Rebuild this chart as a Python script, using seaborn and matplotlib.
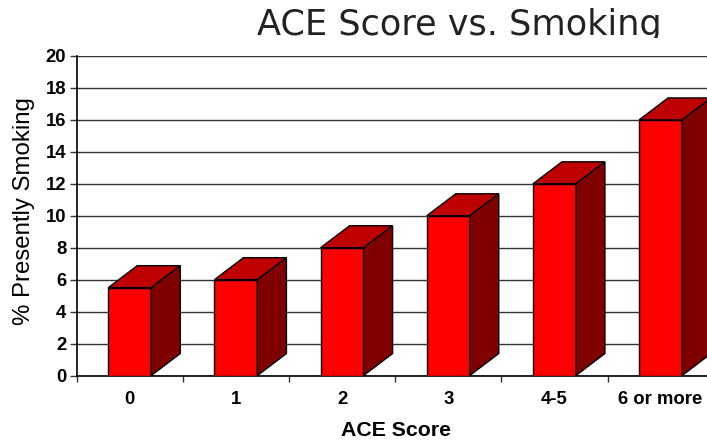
import matplotlib
matplotlib.use('Agg')
import matplotlib.pyplot as plt
import pandas as pd
import seaborn as sns
from matplotlib.patches import Polygon
from matplotlib.transforms import Bbox

categories = ['0', '1', '2', '3', '4-5', '6 or more']
smoking = [5.5, 6, 8, 10, 12, 16]
y_ticks = [0, 2, 4, 6, 8, 10, 12, 14, 16, 18, 20]

W, H = 707, 441
BAR_WIDTH = 0.405
DEPTH_X = 0.273  # 3d offset, in category units
DEPTH_Y = 1.375  # 3d offset, in % units

sns.set_style('white')
plt.rcParams['font.family'] = ['Liberation Sans', 'DejaVu Sans']
plt.rcParams['text.color'] = 'black'
plt.rcParams['xtick.labelcolor'] = 'black'
plt.rcParams['ytick.labelcolor'] = 'black'

df = pd.DataFrame({'ACE Score': categories, 'Smoking': smoking})

fig = plt.figure(figsize=(W / 100, H / 100), dpi=100)
ax = fig.add_axes([76.7 / W, (H - 375.5) / H, 637 / W, 319.5 / H])

sns.barplot(data=df, x='ACE Score', y='Smoking', color='#ff0000', saturation=1,
            width=BAR_WIDTH, edgecolor='black', linewidth=1, ax=ax, zorder=3)

# fake 3d: top and side faces of each bar
for i, val in enumerate(smoking):
    left = i - BAR_WIDTH / 2
    right = i + BAR_WIDTH / 2
    top = [(left, val), (right, val), (right + DEPTH_X, val + DEPTH_Y), (left + DEPTH_X, val + DEPTH_Y)]
    side = [(right, 0), (right + DEPTH_X, DEPTH_Y), (right + DEPTH_X, val + DEPTH_Y), (right, val)]
    ax.add_patch(Polygon(top, closed=True, facecolor='#bf0000', edgecolor='black', linewidth=1, zorder=3))
    ax.add_patch(Polygon(side, closed=True, facecolor='#800000', edgecolor='black', linewidth=1, zorder=3))

ax.set_xlim(-0.5, 5.5)
ax.set_ylim(0, 20)
ax.set_yticks(y_ticks)
ax.set_axisbelow(True)
ax.yaxis.grid(True, color='#333333', linewidth=1)
ax.xaxis.grid(False)

for name in ['top', 'right']:
    ax.spines[name].set_visible(False)
for name in ['left', 'bottom']:
    ax.spines[name].set_color('black')
    ax.spines[name].set_linewidth(1.2)

ax.set_xticks([i - 0.5 for i in range(7)], minor=True)
ax.tick_params(axis='x', which='minor', bottom=True, length=4, width=1, color='#333333')
ax.tick_params(axis='x', which='major', bottom=False, pad=7.5, labelsize=13.3)
ax.tick_params(axis='y', which='major', left=True, length=5, width=1, color='#333333', pad=2.5, labelsize=13.3)
for lab in ax.get_xticklabels() + ax.get_yticklabels():
    lab.set_fontweight('bold')

ax.set_xlabel('')
ax.set_ylabel('')
fig.text(396 / W, (H - 430) / H, 'ACE Score', ha='center', va='center', fontsize=15.3, fontweight='bold')
fig.text(24 / W, (H - 211) / H, '% Presently Smoking', ha='center', va='center', rotation=90, fontsize=17.3)

# title is cut off just under the baseline in the original
title = fig.text(459.5 / W, (H - 35) / H, 'ACE Score vs. Smoking', ha='center', va='baseline',
                 fontsize=25.3, family=['DejaVu Sans'], color='#222222')
title.set_clip_box(Bbox.from_bounds(0, H - 38, W, 38))
title.set_clip_on(True)

fig.savefig('out.png', dpi=100)
plt.close(fig)
